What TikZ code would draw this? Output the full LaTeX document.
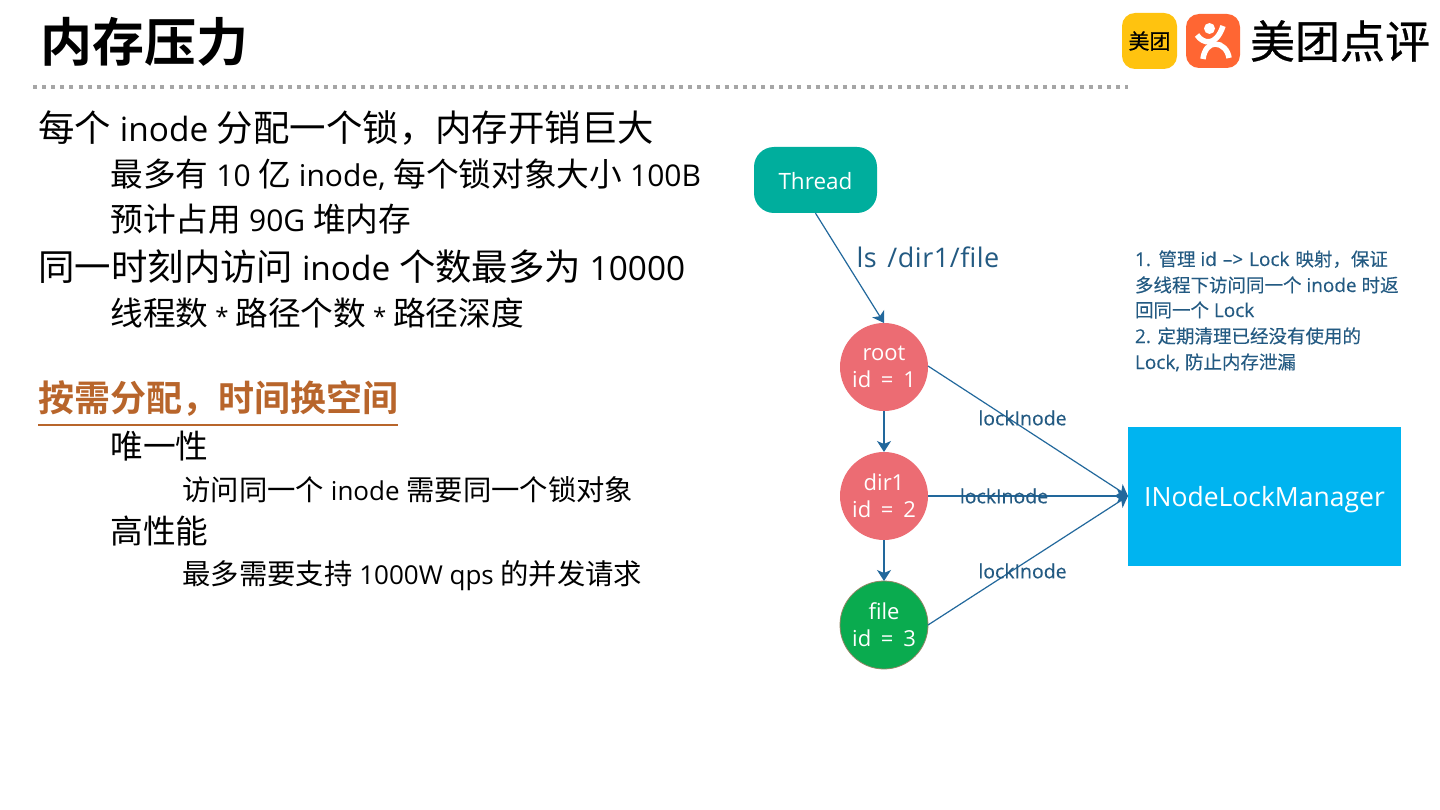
\documentclass[tikz,border=0pt]{standalone}
\usepackage{fontspec}
\setmainfont{Open Sans}
\newfontfamily\latsemi[FakeBold=0.25]{Open Sans}
\newfontfamily\zhfont[Scale=1.09]{Noto Sans CJK SC}
\newfontfamily\zhsemi[FakeBold=0.25]{Noto Sans CJK SC}
\newfontfamily\zhmed[FakeBold=0.6]{Noto Sans CJK SC}
\newfontfamily\zhbold{Noto Sans CJK SC Bold}
\newcommand{\Z}[1]{{\zhfont #1}}
\newcommand{\Y}[1]{{\fontsize{18.5}{18.5}\zhsemi #1}}
\newcommand{\fs}[1]{\fontsize{#1}{#1}\selectfont}
\definecolor{edgeblue}{HTML}{22689C}
\definecolor{txtblue}{HTML}{235A82}
\definecolor{nodered}{HTML}{EC6C73}
\definecolor{nodegreen}{HTML}{0AAB4F}
\definecolor{teal2}{HTML}{00AE9D}
\definecolor{mgrblue}{HTML}{00B4F0}
\definecolor{orangeh}{HTML}{B8652B}
\definecolor{meituan}{HTML}{FFC30F}
\definecolor{dporange}{HTML}{FF6633}
\definecolor{dotgray}{HTML}{A6A6A6}
\usetikzlibrary{arrows.meta}
\tikzset{
 txt/.style={anchor=base west,inner sep=0,outer sep=0,text=black},
 lone/.style={txt,font=\fs{33.4}},
 ltwo/.style={txt,font=\fs{30}},
 lthree/.style={txt,font=\fs{26}},
 note/.style={txt,text=txtblue,font=\fs{19}\latsemi},
 circ/.style={circle,minimum size=88,inner sep=0,outer sep=0,fill=nodered,text=white,align=center,font=\fs{22}},
 edge/.style={draw=edgeblue,line width=1.2,-{Stealth[length=11,width=14,inset=3]}},
 lab/.style={inner sep=0,text=txtblue,font=\fs{19.5}\latsemi},
}
\begin{document}
\begin{tikzpicture}[x=1pt,y=-1pt]
\useasboundingbox (0,0) rectangle (1440,810);
\fill[white] (0,0) rectangle (1440,810);
% title
\node[txt,font=\fs{52}\zhbold] (title) at (40,62) {内存压力};
\draw[dotgray,line width=4,dash pattern=on 4 off 5.1] (33,87.5) -- (1128,87.5);
% logo
\fill[meituan] (1122,13) [rounded corners=13] rectangle (1177,69);
\node[inner sep=0,font=\fs{21}\zhmed] (mt) at (1149.5,41) {美团};
\fill[dporange] (1186,14) [rounded corners=13] rectangle (1240,68);
\draw[white,line width=5.5] (1197,35) .. controls (1203,44) and (1216,47) .. (1223,26);
\draw[white,line width=5.5] (1203,59) .. controls (1204,50) and (1209,44) .. (1215,44) .. controls (1222,44) and (1228,50) .. (1229,58);
\fill[white] (1209.5,28.5) circle (5.5);
\node[inner sep=0,font=\fs{45}\zhmed] (dp) at (1340,41) {美团点评};
% text
\node[lone] (a1) at (38.5,142) {\Z{每个} inode \Z{分配一个锁，内存开销巨大}};
\node[ltwo] (a2) at (110.5,187) {\Z{最多有} 10 \Z{亿} inode, \Z{每个锁对象大小} 100B};
\node[ltwo] (a3) at (110.5,232) {\Z{预计占用} 90G \Z{堆内存}};
\node[lone] (a4) at (38.5,280) {\Z{同一时刻内访问} inode \Z{个数最多为} 10000};
\node[ltwo] (a5) at (110.5,325) {\Z{线程数}\hspace{-1pt} {\fs{24}*}\hspace{-1pt} \Z{路径个数}\hspace{-1pt} {\fs{24}*}\hspace{-1pt} \Z{路径深度}};
\node[txt,font=\fs{36}\zhbold,text=orangeh] (h) at (38.5,411) {按需分配，时间换空间};
\draw[orangeh,line width=2] (38,424.5) -- (398,424.5);
\node[ltwo] (a6) at (110.5,458) {\Z{唯一性}};
\node[lthree] (a7) at (182.5,500) {\Z{访问同一个} inode \Z{需要同一个锁对象}};
\node[ltwo] (a8) at (110.5,543) {\Z{高性能}};
\node[lthree] (a9) at (182.5,584) {\Z{最多需要支持} 1000W qps \Z{的并发请求}};
% diagram
\node[rounded corners=20,fill=teal2,text=white,minimum width=123,minimum height=66,inner sep=0,font=\fs{22.5}] (thread) at (815.5,180) {\rule{0pt}{19pt}Thread};
\node[circ] (root) at (884,367) {root\\[5pt]id\hspace{4pt} = \hspace{4pt}1};
\node[circ] (dir) at (884,496) {dir1\\[5pt]id\hspace{4pt} = \hspace{4pt}2};
\node[circ,fill=nodegreen,draw=nodered!60!nodegreen,line width=0.8] (file) at (884,625) {file\\[5pt]id\hspace{4pt} = \hspace{4pt}3};
\node[fill=mgrblue,text=white,minimum width=273.5,minimum height=139.5,inner sep=0,font=\fs{26.5}] (mgr) at (1264.5,496.5) {\rule{0pt}{27pt}INodeLockManager};
\coordinate (hit) at (1128,496);
\draw[edge] (thread.south) -- (root.north);
\draw[edge] (root) -- (dir);
\draw[edge] (dir) -- (file);
\draw[edge] (root.east |- 0,366) -- (hit);
\draw[edge] (dir) -- (hit);
\draw[edge] (file.east |- 0,625) -- (hit);
\node[inner sep=0,text=txtblue,font=\fs{27}\addfontfeatures{LetterSpace=2}] (ls) at (928,257) {ls\hspace{3pt} /dir1/file};
\node[lab] (l1) at (1022.5,418) {lockInode};
\node[lab] (l2) at (1004,496) {lockInode};
\node[lab] (l3) at (1022.5,571) {lockInode};
\node[note] (n1) at (1135,266) {1.\hspace{1pt} \Y{管理} id\hspace{1pt} –>\hspace{1pt} Lock\hspace{1pt} \Y{映射，保证}};
\node[note] (n2) at (1135,292) {\Y{多线程下访问同一个} inode \Y{时返}};
\node[note] (n3) at (1135,317) {\Y{回同一个} Lock};
\node[note] (n4) at (1135,343) {2. \Y{定期清理已经没有使用的}};
\node[note] (n5) at (1135,369) {Lock, \Y{防止内存泄漏}};
\end{tikzpicture}
\end{document}
